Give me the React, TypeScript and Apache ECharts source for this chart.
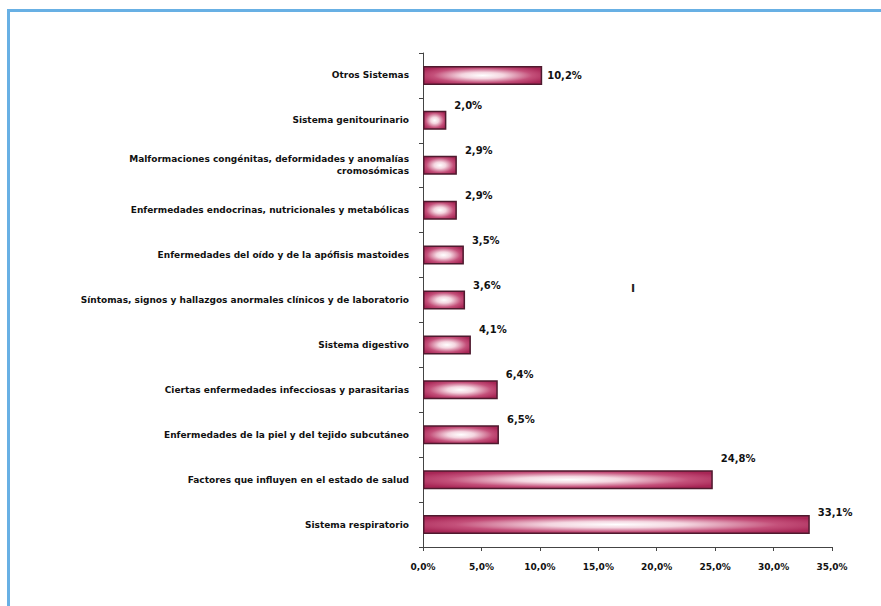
import React, { useEffect, useRef } from "react";
import * as echarts from "echarts";

const categories = [
  "Otros Sistemas",
  "Sistema genitourinario",
  "Malformaciones congénitas, deformidades y anomalías\ncromosómicas",
  "Enfermedades endocrinas, nutricionales y metabólicas",
  "Enfermedades del oído y de la apófisis mastoides",
  "Síntomas, signos y hallazgos anormales clínicos y de laboratorio",
  "Sistema digestivo",
  "Ciertas enfermedades infecciosas y parasitarias",
  "Enfermedades de la piel y del tejido subcutáneo",
  "Factores que influyen en el estado de salud",
  "Sistema respiratorio",
];

const values = [10.2, 2.0, 2.9, 2.9, 3.5, 3.6, 4.1, 6.4, 6.5, 24.8, 33.1];

const xTicks = [0, 5, 10, 15, 20, 25, 30, 35];

const fmt = (v: number) => v.toFixed(1).replace(".", ",") + "%";

export default function App() {
  const ref = useRef<HTMLDivElement>(null);
  useEffect(() => {
    if (!ref.current) return;
    const chart = echarts.init(ref.current, null, { renderer: "svg" });
    const font = "'DejaVu Sans', Verdana, sans-serif";
    const barFill = new echarts.graphic.RadialGradient(0.5, 0.5, 0.6, [
      { offset: 0, color: "#ffffff" },
      { offset: 0.3, color: "#f4d6e0" },
      { offset: 0.7, color: "#c4507a" },
      { offset: 1, color: "#a82656" },
    ]);
    const data = values.map((v, i) => ({
      value: v,
      label: {
        offset: i === 0 ? [0, 0] : i === 9 ? [3, -21] : i === 10 ? [3, -12] : [3, -15],
      },
    }));
    chart.setOption({
      animation: false,
      backgroundColor: "#ffffff",
      grid: { left: 423, right: 49, top: 53, bottom: 59, containLabel: false },
      xAxis: {
        type: "value",
        min: 0,
        max: 35,
        interval: 5,
        axisLine: { show: true, lineStyle: { color: "#444", width: 1 } },
        axisTick: { show: true, length: 4, lineStyle: { color: "#444" } },
        splitLine: { show: false },
        axisLabel: {
          formatter: (v: number) => (xTicks.includes(v) ? fmt(v) : ""),
          color: "#111",
          fontFamily: font,
          fontWeight: "bold",
          fontSize: 9,
          margin: 15,
        },
      },
      yAxis: {
        type: "category",
        data: categories,
        inverse: true,
        axisLine: { show: true, lineStyle: { color: "#444", width: 1 } },
        axisTick: { show: true, length: 4, lineStyle: { color: "#444" } },
        axisLabel: {
          color: "#111",
          fontFamily: font,
          fontWeight: "bold",
          fontSize: 9,
          margin: 14,
          align: "right",
          lineHeight: 12,
        },
      },
      series: [
        {
          type: "bar",
          data,
          barWidth: 19,
          itemStyle: {
            color: barFill,
            borderColor: "#4e1a2e",
            borderWidth: 1.5,
          },
          label: {
            show: true,
            position: "right",
            distance: 5,
            formatter: (p: any) => fmt(p.value),
            color: "#111",
            fontFamily: font,
            fontWeight: "bold",
            fontSize: 10,
          },
        },
      ],
      graphic: [
        {
          type: "rect",
          shape: { x: 8.5, y: 10.5, width: 900, height: 700 },
          style: { fill: "none", stroke: "#68b0e4", lineWidth: 3 },
          silent: true,
        },
        {
          type: "text",
          x: 631,
          y: 283,
          style: {
            text: "I",
            fill: "#222",
            font: "bold 11px 'DejaVu Sans', Verdana, sans-serif",
          },
          silent: true,
        },
      ],
    });
    return () => chart.dispose();
  }, []);
  return (
    <div
      ref={ref}
      style={{ position: "fixed", left: 0, top: 0, width: 881, height: 606 }}
    />
  );
}
